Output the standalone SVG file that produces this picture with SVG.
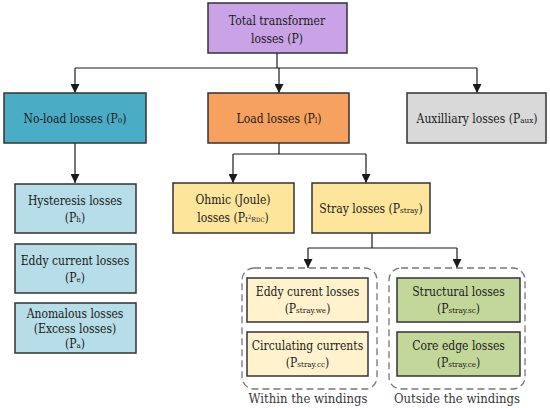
<svg xmlns="http://www.w3.org/2000/svg" width="550" height="408" viewBox="0 0 550 408">
<defs>
<marker id="ah" viewBox="0 0 10 10" refX="10" refY="5" markerWidth="9" markerHeight="9" markerUnits="userSpaceOnUse" orient="auto">
<path d="M0,0 L10,5 L0,10 z" fill="#1a1a1a"/>
</marker>
</defs>
<style>
.box{stroke:#333;stroke-width:1.5}
text{font-family:'DejaVu Serif Condensed','Noto Serif','DejaVu Serif',serif;font-stretch:condensed;font-size:12px;fill:#1a1a1a;text-anchor:middle}
.s{font-size:8px}
.c{fill:none;stroke:#1a1a1a;stroke-width:1.2}
.a{fill:none;stroke:#1a1a1a;stroke-width:1.2;marker-end:url(#ah)}
.dash{fill:none;stroke:#777;stroke-width:1.3;stroke-dasharray:7,4}
.lbl{fill:#3a3a3a;font-size:13px}
</style>
<rect width="550" height="408" fill="#fff"/>
<g id="connectors">
<path class="c" d="M277,53 V68"/>
<path class="c" d="M75,68 H477"/>
<path class="a" d="M75,68 V93"/>
<path class="a" d="M279,68 V93"/>
<path class="a" d="M477,68 V93"/>
<path class="a" d="M75,143 V183"/>
<path class="c" d="M279,143 V154"/>
<path class="c" d="M233,154 H366"/>
<path class="a" d="M233,154 V183"/>
<path class="a" d="M366,154 V183"/>
<path class="c" d="M372,233 V248"/>
<path class="c" d="M308,248 H457"/>
<path class="a" d="M308,248 V268"/>
<path class="a" d="M457,248 V268"/>
</g>
<g id="total">
<rect class="box" x="208" y="3" width="139" height="50" fill="#c9a3e6"/>
<text x="277" y="25">Total transformer</text>
<text x="277" y="43">losses (P)</text>
</g>
<g id="noload">
<rect class="box" x="4" y="93" width="142" height="50" fill="#4bacc6"/>
<text x="75" y="123">No-load losses (P<tspan class="s">0</tspan>)</text>
</g>
<g id="load">
<rect class="box" x="208" y="93" width="141" height="50" fill="#f6a25e"/>
<text x="279" y="123">Load losses (P<tspan class="s">l</tspan>)</text>
</g>
<g id="aux">
<rect class="box" x="407" y="93" width="139" height="50" fill="#d9d9d9"/>
<text x="477" y="123">Auxilliary losses (P<tspan class="s">aux</tspan>)</text>
</g>
<g id="hysteresis">
<rect class="box" x="15" y="184" width="121" height="49" fill="#b7dde8"/>
<text x="75" y="205">Hysteresis losses</text>
<text x="75" y="222">(P<tspan class="s">h</tspan>)</text>
</g>
<g id="eddy">
<rect class="box" x="15" y="244" width="121" height="49" fill="#b7dde8"/>
<text x="75" y="265">Eddy current losses</text>
<text x="75" y="282">(P<tspan class="s">e</tspan>)</text>
</g>
<g id="anomalous">
<rect class="box" x="15" y="303" width="121" height="50" fill="#b7dde8"/>
<text x="75" y="318">Anomalous losses</text>
<text x="75" y="333">(Excess losses)</text>
<text x="75" y="348">(P<tspan class="s">a</tspan>)</text>
</g>
<g id="ohmic">
<rect class="box" x="173" y="183" width="121" height="50" fill="#fde59c"/>
<text x="233" y="204">Ohmic (Joule)</text>
<text x="233" y="222">losses (P<tspan class="s">I</tspan><tspan style="font-size:6px" dy="-3">2</tspan><tspan style="font-size:7px" dy="3">R</tspan><tspan style="font-size:6px">DC</tspan>)</text>
</g>
<g id="stray">
<rect class="box" x="312" y="183" width="118" height="50" fill="#fde59c"/>
<text x="371" y="213">Stray losses (P<tspan class="s">stray</tspan>)</text>
</g>
<g id="within">
<rect class="dash" x="242" y="268" width="135" height="121" rx="12"/>
<text class="lbl" x="308" y="403">Within the  windings</text>
</g>
<g id="eddywind">
<rect class="box" x="247" y="278" width="121" height="44" fill="#fff2cc"/>
<text x="307.5" y="296">Eddy curent losses</text>
<text x="307.5" y="313">(P<tspan class="s">stray.we</tspan>)</text>
</g>
<g id="circulating">
<rect class="box" x="247" y="332" width="121" height="44" fill="#fff2cc"/>
<text x="307.5" y="350">Circulating currents</text>
<text x="307.5" y="367">(P<tspan class="s">stray.cc</tspan>)</text>
</g>
<g id="outside">
<rect class="dash" x="389" y="268" width="136" height="121" rx="12"/>
<text class="lbl" x="457" y="403">Outside the windings</text>
</g>
<g id="structural">
<rect class="box" x="397" y="278" width="123" height="44" fill="#c4d79b"/>
<text x="458.5" y="296">Structural losses</text>
<text x="458.5" y="313">(P<tspan class="s">stray.sc</tspan>)</text>
</g>
<g id="coreedge">
<rect class="box" x="397" y="332" width="123" height="44" fill="#c4d79b"/>
<text x="458.5" y="350">Core edge losses</text>
<text x="458.5" y="367">(P<tspan class="s">stray.ce</tspan>)</text>
</g>
</svg>
